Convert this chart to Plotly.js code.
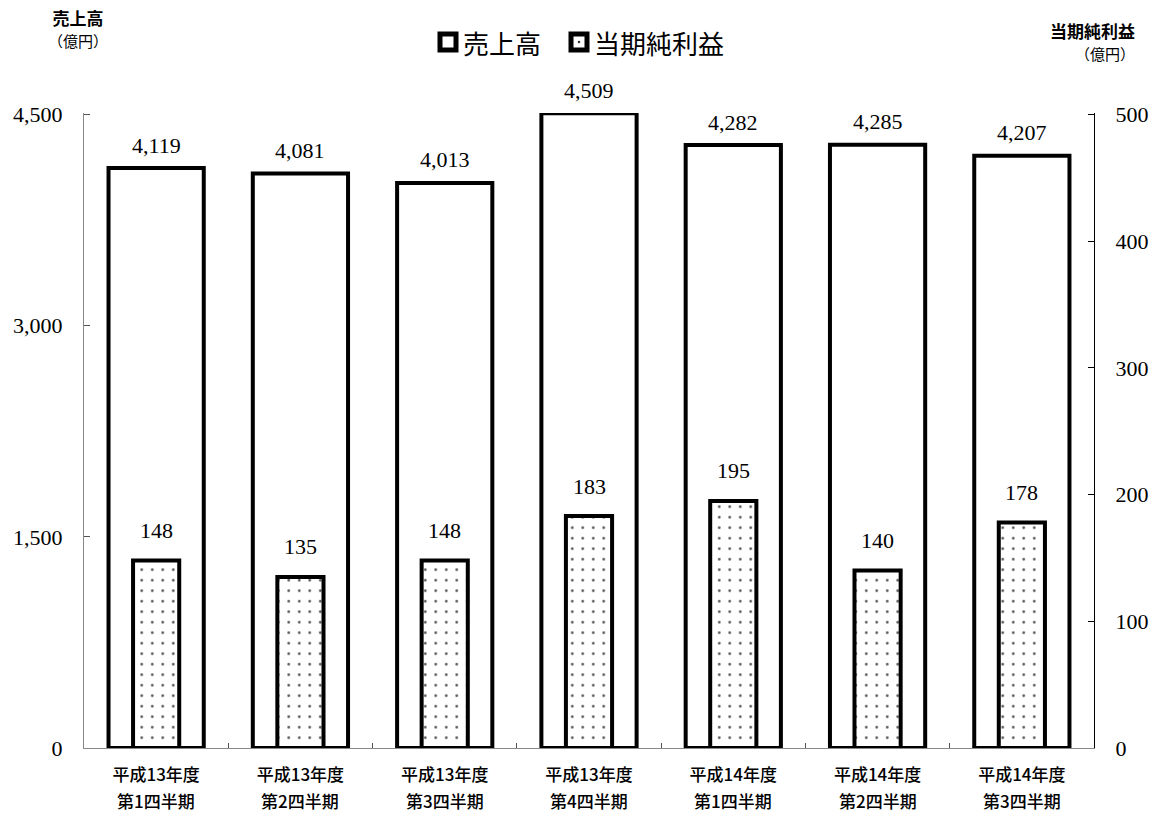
<!DOCTYPE html>
<html>
<head>
<meta charset="utf-8">
<script src="https://cdn.plot.ly/plotly-3.0.1.min.js"></script>
<style>html,body{margin:0;padding:0;background:#fff;}#chart{width:1176px;height:816px;}</style>
</head>
<body>
<div id="chart"></div>
<script>
const fiscalYears = ["平成13年度", "平成13年度", "平成13年度", "平成13年度", "平成14年度", "平成14年度", "平成14年度"];
const quarters = ["第1四半期", "第2四半期", "第3四半期", "第4四半期", "第1四半期", "第2四半期", "第3四半期"];
const categories = ["H13Q1", "H13Q2", "H13Q3", "H13Q4", "H14Q1", "H14Q2", "H14Q3"];
const sales = [4119, 4081, 4013, 4509, 4282, 4285, 4207];
const profit = [148, 135, 148, 183, 195, 140, 178];
const salesTicks = [0, 1500, 3000, 4500];
const profitTicks = [0, 100, 200, 300, 400, 500];
const seriesNames = ['売上高', '当期純利益'];

const serif = "'Liberation Serif', 'Times New Roman', serif";
const sans = "'Noto Sans CJK JP', 'Noto Sans', sans-serif";

const traceSales = {
  type: 'bar', name: seriesNames[0], x: categories, y: sales, yaxis: 'y', width: 0.66,
  marker: {color: '#ffffff', line: {color: '#000000', width: 4}},
  hoverinfo: 'skip', showlegend: false
};
const traceProfit = {
  type: 'bar', name: seriesNames[1], x: categories, y: profit, yaxis: 'y2', width: 0.32,
  marker: {color: '#ffffff', line: {color: '#000000', width: 4},
    pattern: {shape: '.', fgcolor: '#555555', bgcolor: '#ffffff', size: 10.5, solidity: 0.05}},
  hoverinfo: 'skip', showlegend: false
};

const fmt = v => v.toLocaleString('en-US');
const annotations = [];
categories.forEach((c, i) => {
  annotations.push({x: c, y: sales[i], xref: 'x', yref: 'y', text: fmt(sales[i]), showarrow: false,
    yshift: 23, font: {family: serif, size: 22, color: '#000'}});
  annotations.push({x: c, y: profit[i], xref: 'x', yref: 'y2', text: fmt(profit[i]), showarrow: false,
    yshift: 30, font: {family: serif, size: 22, color: '#000'}});
  // second line of the category label
  annotations.push({x: c, xref: 'x', yref: 'paper', y: -0.0819, yanchor: 'middle', text: quarters[i],
    showarrow: false, font: {family: sans, size: 17, color: '#000', weight: 500}});
});
// axis titles
annotations.push({xref: 'paper', yref: 'paper', x: 0.0257, y: 1.134, xanchor: 'right', yanchor: 'middle',
  text: '<b>売上高</b><br><span style="font-size:15px">（億円）</span>', showarrow: false, align: 'center',
  font: {family: sans, size: 17, color: '#000'}});
annotations.push({xref: 'paper', yref: 'paper', x: 1.0426, y: 1.114, xanchor: 'right', yanchor: 'middle',
  text: '<b>当期純利益</b><br><span style="font-size:15px">（億円）</span>', showarrow: false, align: 'right',
  font: {family: sans, size: 17, color: '#000'}});

// custom legend (large framed squares like the reference)
const legY = 1.1118;
const legItems = [{sx: (448 - 84) / 1010, tx: (461 - 84) / 1010, dot: false},
                  {sx: (579 - 84) / 1010, tx: (592 - 84) / 1010, dot: true}];
const shapes = [];
legItems.forEach((it, i) => {
  shapes.push({type: 'rect', xref: 'paper', yref: 'paper', xsizemode: 'pixel', ysizemode: 'pixel',
    xanchor: it.sx, yanchor: legY, x0: -8, x1: 8, y0: -8, y1: 8,
    line: {color: '#000', width: 5}, fillcolor: '#fff'});
  if (it.dot) {
    shapes.push({type: 'circle', xref: 'paper', yref: 'paper', xsizemode: 'pixel', ysizemode: 'pixel',
      xanchor: it.sx, yanchor: legY, x0: -1.3, x1: 1.3, y0: -1.3, y1: 1.3,
      line: {width: 0}, fillcolor: '#333'});
  }
  annotations.push({xref: 'paper', yref: 'paper', x: it.tx, y: legY, xanchor: 'left', yanchor: 'middle',
    text: seriesNames[i], showarrow: false, font: {family: sans, size: 26, color: '#000'}});
});

const layout = {
  width: 1176, height: 816,
  margin: {l: 84, r: 82, t: 113, b: 68},
  paper_bgcolor: '#fff', plot_bgcolor: '#fff',
  barmode: 'overlay',
  showlegend: false,
  xaxis: {
    tickmode: 'array', tickvals: categories, ticktext: fiscalYears,
    showline: true, linecolor: '#888', linewidth: 1,
    ticks: 'inside', tickson: 'boundaries', ticklen: 5, tickcolor: '#555',
    tickfont: {family: sans, size: 17, color: '#000', weight: 500}, ticklabelstandoff: 12,
    showgrid: false, zeroline: false, fixedrange: true
  },
  yaxis: {
    range: [0, 4510], tickvals: salesTicks, tickformat: ',',
    showline: true, linecolor: '#888', linewidth: 1,
    ticks: 'inside', ticklen: 6, tickcolor: '#555', ticklabelstandoff: 16,
    tickfont: {family: serif, size: 22, color: '#000'},
    showgrid: false, zeroline: false
  },
  yaxis2: {
    range: [0, 501.1], tickvals: profitTicks, overlaying: 'y', side: 'right',
    showline: true, linecolor: '#000', linewidth: 1,
    ticks: 'inside', ticklen: 6, tickcolor: '#000', ticklabelstandoff: 16,
    tickfont: {family: serif, size: 22, color: '#000'},
    showgrid: false, zeroline: false
  },
  shapes: shapes,
  annotations: annotations
};

Plotly.newPlot('chart', [traceSales, traceProfit], layout, {displayModeBar: false, staticPlot: true});
</script>
</body>
</html>
